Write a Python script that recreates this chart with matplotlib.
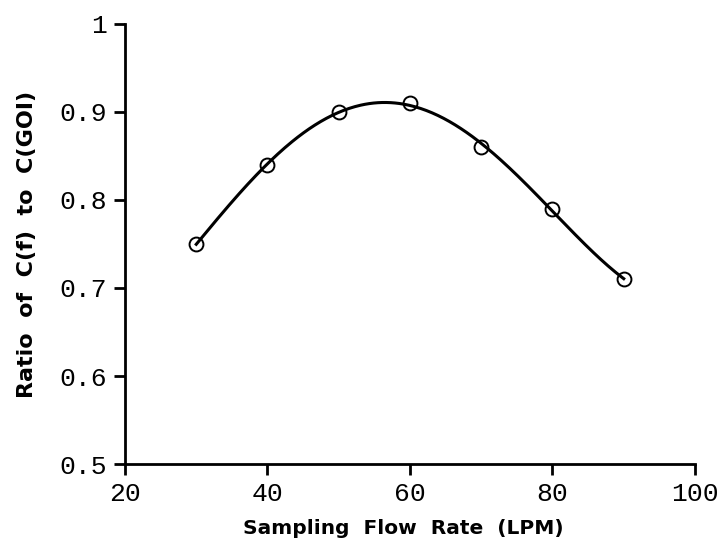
import numpy as np
import matplotlib
matplotlib.use("Agg")
import matplotlib.pyplot as plt

flow_rate = [30, 40, 50, 60, 70, 80, 90]
ratio = [0.75, 0.84, 0.90, 0.91, 0.86, 0.79, 0.71]
x_ticks = [20, 40, 60, 80, 100]
y_ticks = [0.5, 0.6, 0.7, 0.8, 0.9, 1.0]
y_tick_labels = ["0.5", "0.6", "0.7", "0.8", "0.9", "1"]

fig = plt.figure(figsize=(7.25, 5.45), dpi=100)
ax = fig.add_axes([0.1724, 0.1486, 0.9586 - 0.1724, 0.956 - 0.1486])

coef = np.polyfit(flow_rate, ratio, 4)
xs = np.linspace(min(flow_rate), max(flow_rate), 300)
ax.plot(xs, np.polyval(coef, xs), color="black", lw=2.2)
ax.plot(flow_rate, ratio, "o", ms=10, mfc="none", mec="black", mew=1.4)

ax.set_xlim(20, 100)
ax.set_ylim(0.5, 1.0)
ax.set_xticks(x_ticks)
ax.set_yticks(y_ticks)
ax.set_yticklabels(y_tick_labels)
for s in ["top", "right"]:
    ax.spines[s].set_visible(False)
for s in ["left", "bottom"]:
    ax.spines[s].set_linewidth(2)
ax.tick_params(direction="out", length=8, width=2, pad=5)
for lab in ax.get_xticklabels() + ax.get_yticklabels():
    lab.set_fontfamily("Liberation Mono")
    lab.set_fontsize(19)

ax.set_xlabel("Sampling  Flow  Rate  (LPM)", fontsize=14.5, fontweight="bold",
              family="DejaVu Sans")
ax.xaxis.set_label_coords(0.488, -0.125)
ax.set_ylabel("Ratio  of  C(f)  to  C(GOI)", fontsize=16, fontweight="bold",
              family="DejaVu Sans")
ax.yaxis.set_label_coords(-0.154, 0.5)

fig.savefig("out.png", dpi=100)
